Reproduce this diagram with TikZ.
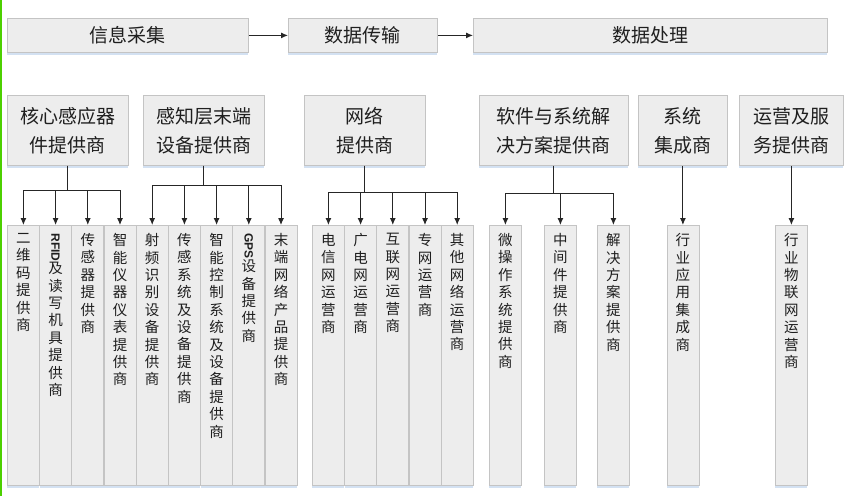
\documentclass[tikz,border=0pt]{standalone}
\usepackage{fontspec}
\setmainfont{Noto Sans CJK SC}
\newfontfamily\latinfont{Liberation Sans}
\usetikzlibrary{arrows.meta,shadows}
\definecolor{boxfill}{HTML}{EDEDED}
\definecolor{boxline}{HTML}{C4C4C4}
\definecolor{boxshade}{HTML}{D3E1F2}
\definecolor{edgegreen}{HTML}{4CD000}
\tikzset{
  box/.style={rectangle, anchor=north west, fill=boxfill, draw=boxline, line width=0.8pt, inner sep=0pt, text=black!88, general shadow={fill=boxshade, shadow yshift=-2.5pt}},
  head/.style={box, minimum height=34pt, font=\fontsize{19}{23}\selectfont},
  maker/.style={box, minimum height=70pt, align=center, font=\fontsize{19}{29}\selectfont},
  leaf/.style={box, minimum width=32pt, minimum height=260pt},
  arr/.style={-{Latex[length=7pt,width=6pt]}, line width=1pt, black!85},
}
\newcommand\vtext[1]{\parbox[t][260pt][t]{32pt}{\centering\fontsize{14.5}{17.4}\selectfont\lineskip=1pt\vspace*{8pt}#1}}
\newcommand\rotlatin[1]{\rotatebox{-90}{\latinfont\fontsize{12}{14}\selectfont\bfseries #1}}
\begin{document}
\begin{tikzpicture}[x=1pt,y=-1pt]
\useasboundingbox (0,0) rectangle (851,496);
\fill[edgegreen] (0,0) rectangle (2,496);
% top row
\node[head, minimum width=241pt] (t1) at (7,18) {信息采集};
\node[head, minimum width=149pt] (t2) at (288,18) {数据传输};
\node[head, minimum width=354pt] (t3) at (473,18) {数据处理};
\draw[arr] (t1) -- (t2);
\draw[arr] (t2) -- (t3);
% providers
\node[maker, minimum width=121pt] (g1) at (7,95) {核心感应器\\件提供商};
\node[maker, minimum width=121pt] (g2) at (143,95) {感知层末端\\设备提供商};
\node[maker, minimum width=121pt] (g3) at (304,95) {网络\\提供商};
\node[maker, minimum width=149pt] (g4) at (479,95) {软件与系统解\\决方案提供商};
\node[maker, minimum width=89pt] (g5) at (638,95) {系统\\集成商};
\node[maker, minimum width=104pt] (g6) at (739,95) {运营及服\\务提供商};
% leaves
\node[leaf] (l1) at (7,225) {\vtext{二\\维\\码\\提\\供\\商}};
\node[leaf] (l2) at (39.2,225) {\vtext{\rotlatin{RFID}\\及\\读\\写\\机\\具\\提\\供\\商}};
\node[leaf] (l3) at (71.4,225) {\vtext{传\\感\\器\\提\\供\\商}};
\node[leaf] (l4) at (103.6,225) {\vtext{智\\能\\仪\\器\\仪\\表\\提\\供\\商}};
\node[leaf] (l5) at (135.8,225) {\vtext{射\\频\\识\\别\\设\\备\\提\\供\\商}};
\node[leaf] (l6) at (168,225) {\vtext{传\\感\\系\\统\\及\\设\\备\\提\\供\\商}};
\node[leaf] (l7) at (200.2,225) {\vtext{智\\能\\控\\制\\系\\统\\及\\设\\备\\提\\供\\商}};
\node[leaf] (l8) at (232.4,225) {\vtext{\rotlatin{GPS}\\设\\备\\提\\供\\商}};
\node[leaf] (l9) at (264.6,225) {\vtext{末\\端\\网\\络\\产\\品\\提\\供\\商}};
\node[leaf] (n1) at (312,225) {\vtext{电\\信\\网\\运\\营\\商}};
\node[leaf] (n2) at (344.2,225) {\vtext{广\\电\\网\\运\\营\\商}};
\node[leaf] (n3) at (376.4,225) {\vtext{互\\联\\网\\运\\营\\商}};
\node[leaf] (n4) at (408.6,225) {\vtext{专\\网\\运\\营\\商}};
\node[leaf] (n5) at (440.8,225) {\vtext{其\\他\\网\\络\\运\\营\\商}};
\node[leaf] (s1) at (489,225) {\vtext{微\\操\\作\\系\\统\\提\\供\\商}};
\node[leaf] (s2) at (544,225) {\vtext{中\\间\\件\\提\\供\\商}};
\node[leaf] (s3) at (597,225) {\vtext{解\\决\\方\\案\\提\\供\\商}};
\node[leaf] (i1) at (666.5,225) {\vtext{行\\业\\应\\用\\集\\成\\商}};
\node[leaf] (o1) at (775,225) {\vtext{行\\业\\物\\联\\网\\运\\营\\商}};
% connectors
\draw[arr] (g1.south) -- ++(0,25) -| (l1.north);
\draw[arr] (g1.south) -- ++(0,25) -| (l2.north);
\draw[arr] (g1.south) -- ++(0,25) -| (l3.north);
\draw[arr] (g1.south) -- ++(0,25) -| (l4.north);
\draw[arr] (g2.south) -- ++(0,20) -| (l5.north);
\draw[arr] (g2.south) -- ++(0,20) -| (l6.north);
\draw[arr] (g2.south) -- ++(0,20) -| (l7.north);
\draw[arr] (g2.south) -- ++(0,20) -| (l8.north);
\draw[arr] (g2.south) -- ++(0,20) -| (l9.north);
\draw[arr] (g3.south) -- ++(0,27) -| (n1.north);
\draw[arr] (g3.south) -- ++(0,27) -| (n2.north);
\draw[arr] (g3.south) -- ++(0,27) -| (n3.north);
\draw[arr] (g3.south) -- ++(0,27) -| (n4.north);
\draw[arr] (g3.south) -- ++(0,27) -| (n5.north);
\draw[arr] (g4.south) -- ++(0,28) -| (s1.north);
\draw[arr] (g4.south) -- ++(0,28) -| (s2.north);
\draw[arr] (g4.south) -- ++(0,28) -| (s3.north);
\draw[arr] (g5.south) -- (i1.north);
\draw[arr] (g6.south) -- (o1.north);
\end{tikzpicture}
\end{document}
